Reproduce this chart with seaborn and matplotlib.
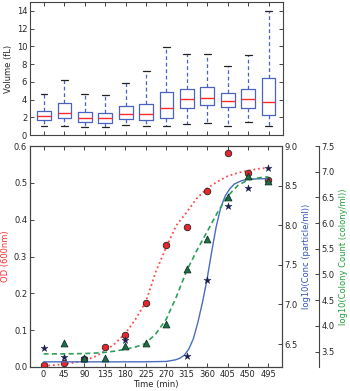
import matplotlib
matplotlib.use("Agg")
import matplotlib.pyplot as plt
import numpy as np
import pandas as pd
import seaborn as sns

# ---------------- data ----------------
times = [0, 45, 90, 135, 180, 225, 270, 315, 360, 405, 450, 495]

# box plot (cell volume) five-number summaries
vol_min = [1.02, 1.02, 0.94, 0.94, 1.13, 1.05, 1.05, 1.24, 1.32, 1.05, 1.43, 1.05]
vol_q1 = [1.69, 1.88, 1.50, 1.39, 1.81, 1.69, 1.92, 3.01, 3.39, 3.20, 3.05, 2.30]
vol_med = [2.18, 2.45, 1.96, 1.88, 2.37, 2.33, 3.05, 4.06, 4.22, 3.88, 4.03, 3.69]
vol_q3 = [2.75, 3.61, 2.56, 2.45, 3.27, 3.54, 4.82, 5.16, 5.38, 4.78, 5.16, 6.47]
vol_max = [4.59, 6.21, 4.59, 4.48, 5.83, 7.19, 9.97, 9.18, 9.18, 7.79, 9.00, 14.0]

# OD measurements
od_vals = [0.005, 0.011, 0.022, 0.053, 0.087, 0.173, 0.331, 0.379, 0.479, 0.582, 0.526, 0.508]

# particle concentration (log10) measurements
conc_t = [0, 45, 90, 180, 315, 360, 405, 450, 495]
conc_vals = [6.446, 6.34, 6.32, 6.55, 6.345, 7.31, 8.24, 8.47, 8.72]

# colony count (log10) measurements
col_t = [45, 90, 135, 180, 225, 270, 315, 360, 405, 450, 495]
col_vals = [3.665, 3.37, 3.37, 3.60, 3.675, 4.04, 5.11, 5.69, 6.51, 6.92, 6.81]

# fitted curves
fit_t = [0, 22.5, 45, 67.5, 90, 112.5, 135, 157.5, 180, 202.5, 225, 247.5,
         270, 292.5, 315, 337.5, 360, 382.5, 405, 427.5, 450, 472.5, 495]
od_fit = [0.003, 0.005, 0.008, 0.012, 0.017, 0.028, 0.043, 0.064, 0.091, 0.13,
          0.177, 0.26, 0.325, 0.385, 0.42, 0.458, 0.485, 0.503, 0.518, 0.527,
          0.533, 0.538, 0.541]
col_fit = [3.455, 3.455, 3.456, 3.458, 3.462, 3.47, 3.485, 3.51, 3.545, 3.59,
           3.66, 3.85, 4.13, 4.57, 5.07, 5.47, 5.83, 6.2, 6.52, 6.73, 6.84,
           6.88, 6.90]
conc_fit_t = [0, 45, 90, 135, 180, 225, 270, 290, 300, 310, 320, 330, 340, 350,
              360, 370, 380, 390, 400, 410, 420, 435, 450, 470, 495]
conc_fit = [6.275, 6.275, 6.275, 6.275, 6.275, 6.276, 6.28, 6.30, 6.32, 6.36,
            6.44, 6.57, 6.78, 7.03, 7.32, 7.66, 7.98, 8.22, 8.37, 8.46, 8.52,
            8.56, 8.58, 8.585, 8.588]

# ---------------- style ----------------
sns.set_style("ticks")
plt.rcParams.update({
    "font.family": ["DejaVu Sans"],
    "font.size": 6,
    "axes.edgecolor": "#444444",
    "axes.linewidth": 0.8,
    "xtick.major.size": 3,
    "ytick.major.size": 3,
    "xtick.major.width": 0.6,
    "ytick.major.width": 0.6,
    "xtick.direction": "in",
    "ytick.direction": "in",
    "xtick.labelsize": 6,
    "ytick.labelsize": 6,
    "axes.labelsize": 6,
})

BOX_C = "#4a63c0"
RED_C = "#ff4a4a"
GREEN_C = "#2ca05a"
BLUE_C = "#4a6cc0"

fig = plt.figure(figsize=(3.5, 3.91), dpi=100)

# ---------------- top: box plot ----------------
ax_top = fig.add_axes([30 / 350, 1 - 135 / 391, 253 / 350, 133 / 391])
rows = []
for t, a, b, c, d, e in zip(times, vol_min, vol_q1, vol_med, vol_q3, vol_max):
    for v in (a, b, c, d, e):
        rows.append({"time": str(t), "volume": v})
vol_df = pd.DataFrame(rows)
sns.boxplot(data=vol_df, x="time", y="volume", order=[str(t) for t in times],
            ax=ax_top, whis=(0, 100), width=0.67, fill=False, color=BOX_C,
            linewidth=0.9,
            whiskerprops=dict(color=BOX_C, linestyle=(0, (3, 2.2))),
            capprops=dict(color="#222222"),
            medianprops=dict(color="#ff2a2a", linewidth=1.0),
            boxprops=dict(color=BOX_C))
ax_top.set_xlim(-0.69, 11.71)
ax_top.set_ylim(0, 15)
ax_top.set_yticks([0, 2, 4, 6, 8, 10, 12, 14])
ax_top.set_xticks(range(12))
ax_top.set_xticklabels([])
ax_top.set_xlabel("")
ax_top.set_ylabel("Volume (fL)", labelpad=3)
ax_top.tick_params(axis="x", top=True, bottom=True, labelbottom=False)
ax_top.tick_params(axis="y", left=True, right=True, pad=2)
for s in ax_top.spines.values():
    s.set_visible(True)

# ---------------- bottom: growth curves ----------------
ax = fig.add_axes([30 / 350, 1 - 367 / 391, 252 / 350, 221 / 391])
ax2 = ax.twinx()
ax3 = ax.twinx()
ax3.spines["right"].set_position(("axes", 1 + 37 / 252))

# OD (left axis)
sns.lineplot(x=fit_t, y=od_fit, ax=ax, color=RED_C, linewidth=1.3,
             linestyle=(0, (1, 1.6)), zorder=2)
sns.scatterplot(x=times, y=od_vals, ax=ax, marker="o", s=22, color="#e8262b",
                edgecolor="#222222", linewidth=0.6, zorder=3)

# particle concentration (first right axis)
sns.lineplot(x=conc_fit_t, y=conc_fit, ax=ax2, color=BLUE_C, linewidth=1.0, zorder=2)
sns.scatterplot(x=conc_t, y=conc_vals, ax=ax2, marker="*", s=28, color="#1b1f4f",
                edgecolor="#1b1f4f", linewidth=0.3, zorder=3)

# colony count (second right axis)
sns.lineplot(x=fit_t, y=col_fit, ax=ax3, color=GREEN_C, linewidth=1.2,
             linestyle=(0, (3, 2)), zorder=2)
sns.scatterplot(x=col_t, y=col_vals, ax=ax3, marker="^", s=24, color="#1f6e4a",
                edgecolor="#0d3320", linewidth=0.6, zorder=3)

ax.set_xlim(-30, 525)
ax.set_ylim(0, 0.6)
ax.set_xticks(times)
ax.set_yticks([0.0, 0.1, 0.2, 0.3, 0.4, 0.5, 0.6])
ax.set_yticklabels(["0.0", "0.1", "0.2", "0.3", "0.4", "0.5", "0.6"])
ax.tick_params(axis="x", top=True, bottom=True, pad=2)
ax.tick_params(axis="y", left=True, right=False, pad=2)
ax.set_xlabel("Time (min)", labelpad=1)
ax.set_ylabel("OD (600nm)", color="#ff3030", labelpad=3)

ax2.set_ylim(6.21, 9.0)
ax2.set_yticks([6.5, 7.0, 7.5, 8.0, 8.5, 9.0])
ax2.set_yticklabels(["6.5", "7.0", "7.5", "8.0", "8.5", "9.0"])
ax2.tick_params(axis="y", right=True, pad=2)
ax2.set_ylabel("log10(Conc (particle/ml))", color="#3352bb", labelpad=3)

ax3.set_ylim(3.2, 7.5)
ax3.set_yticks([3.5, 4.0, 4.5, 5.0, 5.5, 6.0, 6.5, 7.0, 7.5])
ax3.set_yticklabels(["3.5", "4.0", "4.5", "5.0", "5.5", "6.0", "6.5", "7.0", "7.5"])
ax3.tick_params(axis="y", right=True, pad=2)
ax3.set_ylabel("log10(Colony Count (colony/ml))", color="#20a040", labelpad=3)

for a in (ax, ax2, ax3):
    for s in a.spines.values():
        s.set_visible(True)
        s.set_color("#444444")
        s.set_linewidth(0.8)
ax3.spines["left"].set_visible(False)
ax3.spines["top"].set_visible(False)
ax3.spines["bottom"].set_visible(False)

fig.savefig("out.png", dpi=100)
